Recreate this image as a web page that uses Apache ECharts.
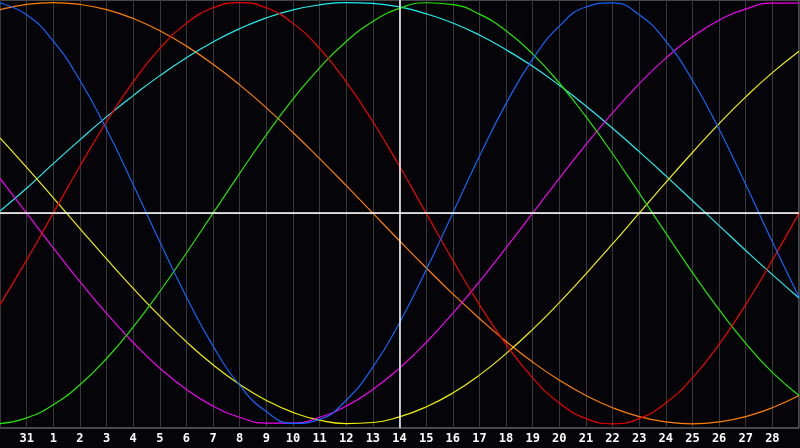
<!DOCTYPE html>
<html>
<head>
<meta charset="utf-8">
<script src="https://cdn.jsdelivr.net/npm/echarts@6/dist/echarts.min.js"></script>
<style>
html,body{margin:0;padding:0;background:#050408;}
#c{width:800px;height:448px;}
</style>
</head>
<body>
<div id="c"></div>
<script>
// Day labels: Jan 30, Jan 31, Feb 1..28, Mar 1 (first and last sit on the plot edges, unlabeled)
const dayLabels = ['30','31','1','2','3','4','5','6','7','8','9','10','11','12','13','14','15','16','17','18','19','20','21','22','23','24','25','26','27','28','1'];
const todayIndex = 15; // Feb 14

const physical = [0.998,0.942,0.817,0.631,0.398,0.136,-0.136,-0.398,-0.631,-0.817,-0.942,-0.998,-0.979,-0.888,-0.731,-0.520,-0.270,0,0.270,0.520,0.731,0.888,0.979,0.998,0.942,0.817,0.631,0.398,0.136,-0.136,-0.398];
const emotional = [-0.434,-0.223,0,0.223,0.434,0.623,0.782,0.901,0.975,1,0.975,0.901,0.782,0.623,0.434,0.223,0,-0.223,-0.434,-0.623,-0.782,-0.901,-0.975,-1,-0.975,-0.901,-0.782,-0.623,-0.434,-0.223,0];
const intellectual = [-0.999,-0.972,-0.910,-0.815,-0.690,-0.541,-0.372,-0.189,0,0.189,0.372,0.541,0.690,0.815,0.910,0.972,0.999,0.990,0.945,0.866,0.756,0.618,0.458,0.282,0.095,-0.095,-0.282,-0.458,-0.618,-0.756,-0.866];
const awareness = [0.966,0.991,1,0.991,0.966,0.924,0.866,0.793,0.707,0.609,0.5,0.383,0.259,0.131,0,-0.131,-0.259,-0.383,-0.5,-0.609,-0.707,-0.793,-0.866,-0.924,-0.966,-0.991,-1,-0.991,-0.966,-0.924,-0.866];
const spiritual = [0.01,0.118,0.235,0.348,0.457,0.558,0.653,0.738,0.813,0.876,0.927,0.965,0.989,1.0,0.996,0.979,0.947,0.903,0.846,0.776,0.697,0.607,0.509,0.403,0.292,0.177,0.059,-0.059,-0.177,-0.292,-0.403];
const intuitive = [0.165,0,-0.165,-0.325,-0.476,-0.614,-0.736,-0.837,-0.916,-0.969,-0.997,-0.997,-0.969,-0.916,-0.837,-0.736,-0.614,-0.476,-0.325,-0.165,0,0.165,0.325,0.476,0.614,0.736,0.837,0.916,0.969,0.997,0.997];
const aesthetic = [0.357,0.217,0.073,-0.073,-0.217,-0.357,-0.489,-0.611,-0.720,-0.813,-0.889,-0.946,-0.983,-0.999,-0.994,-0.967,-0.920,-0.854,-0.769,-0.667,-0.552,-0.425,-0.288,-0.146,0,0.146,0.288,0.425,0.552,0.667,0.769];

const seriesDefs = [
  {name:'Awareness', data:awareness, color:'#ff8000'},
  {name:'Spiritual', data:spiritual, color:'#22eeee'},
  {name:'Aesthetic', data:aesthetic, color:'#f0f000'},
  {name:'Intuitive', data:intuitive, color:'#f000f0'},
  {name:'Intellectual', data:intellectual, color:'#22e600'},
  {name:'Emotional', data:emotional, color:'#f00000'},
  {name:'Physical', data:physical, color:'#1464ff'}
];

const chart = echarts.init(document.getElementById('c'), null, {renderer:'canvas'});
const series = seriesDefs.map(d => ({
  name:d.name, type:'line', data:d.data, smooth:0.5, symbol:'none',
  lineStyle:{color:d.color, width:1.2}, itemStyle:{color:d.color}, z:3
}));
series.push({
  type:'line', data:[], silent:true, z:2,
  markLine:{
    silent:true, symbol:'none', animation:false,
    label:{show:false},
    lineStyle:{color:'#ffffff', width:1.5, type:'solid'},
    data:[{yAxis:0},{xAxis:todayIndex}]
  }
});

chart.setOption({
  backgroundColor:'#050408',
  animation:false,
  grid:{left:0, right:1, top:0, bottom:20, show:true, borderColor:'#8c8c8c', borderWidth:1, backgroundColor:'transparent'},
  xAxis:{
    type:'category', data:dayLabels, boundaryGap:false,
    axisLine:{show:true, lineStyle:{color:'#8c8c8c', width:1}},
    axisTick:{show:false},
    splitLine:{show:true, interval:0, lineStyle:{color:'#383838', width:1}},
    axisLabel:{
      interval:(i)=> i>0 && i<dayLabels.length-1,
      color:'#ffffff', fontWeight:'bold', fontFamily:'DejaVu Sans Mono', fontSize:12, margin:5
    }
  },
  yAxis:{type:'value', min:-1.02, max:1.012, show:false, splitLine:{show:false}},
  series:series
});
</script>
</body>
</html>
